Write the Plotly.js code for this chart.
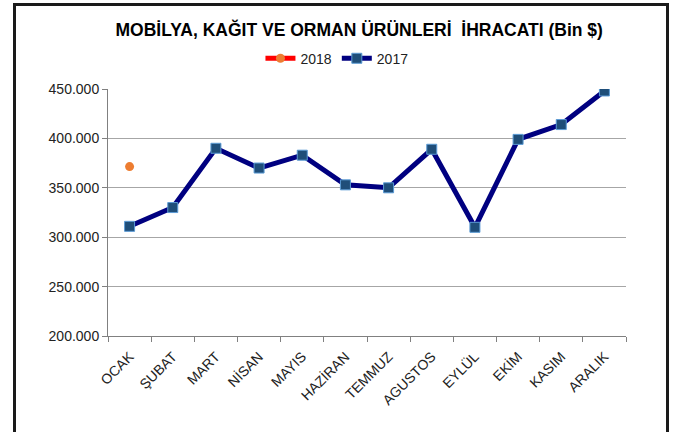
<!DOCTYPE html>
<html><head><meta charset="utf-8">
<script src="https://cdn.plot.ly/plotly-3.0.1.min.js"></script>
<style>
html,body{margin:0;padding:0;background:#fff;}
#wrap{position:relative;width:674px;height:432px;}
#chart{width:674px;height:432px;}
#frame{position:absolute;left:13px;top:3px;width:650px;height:440px;border:3px solid #1a1a1a;pointer-events:none;}
</style></head>
<body>
<div id="wrap"><div id="chart"></div><div id="frame"></div></div>
<script>
const months = ["OCAK","ŞUBAT","MART","NİSAN","MAYIS","HAZİRAN","TEMMUZ","AGUSTOS","EYLÜL","EKİM","KASIM","ARALIK"];
const values2017 = [311, 330, 390, 370, 383, 353, 350, 389, 310, 399, 414, 448];
const months2018 = ["OCAK"];
const values2018 = [371.5];
const yTickVals = [200, 250, 300, 350, 400, 450];
const yTickText = ["200.000","250.000","300.000","350.000","400.000","450.000"];

const traces = [
  {x: months2018, y: values2018, name: "2018", type: "scatter", mode: "lines+markers",
   line: {color: "#ff0000", width: 5},
   marker: {symbol: "circle", size: 9, color: "#ED7D31"}},
  {x: months, y: values2017, name: "2017", type: "scatter", mode: "lines+markers",
   line: {color: "#000080", width: 5},
   marker: {symbol: "square", size: 10, color: "#1F4E79", line: {color: "#5B9BD5", width: 1}}}
];
const layout = {
  width: 674, height: 432,
  margin: {l: 108, r: 48, t: 89, b: 96},
  paper_bgcolor: "#fff", plot_bgcolor: "#fff",
  font: {family: "Liberation Sans, Arial, sans-serif", size: 14, color: "#222"},
  title: {text: "<b>MOBİLYA, KAĞIT VE ORMAN ÜRÜNLERİ  İHRACATI (Bin $)</b>",
          x: 0.533, xanchor: "center", y: 0.93, yanchor: "middle",
          font: {family: "Liberation Sans, Arial, sans-serif", size: 17.5, color: "#000"}},
  showlegend: true,
  legend: {orientation: "h", x: 0.442, xanchor: "center", y: 1.058, yanchor: "bottom",
           font: {size: 14, color: "#222"}, tracegroupgap: 0},
  xaxis: {type: "category", categoryorder: "array", categoryarray: months,
          range: [-0.5, 11.5], tickangle: -45, showgrid: false,
          showline: true, linecolor: "#808080", linewidth: 1,
          ticks: "outside", ticklen: 5, tickcolor: "#808080", tickson: "boundaries",
          ticklabelstandoff: 6,
          tickfont: {size: 14, color: "#222"}, fixedrange: true},
  yaxis: {range: [200, 450], tickvals: yTickVals, ticktext: yTickText,
          showgrid: true, gridcolor: "#a6a6a6", gridwidth: 1,
          showline: true, linecolor: "#808080", linewidth: 1,
          ticks: "outside", ticklen: 5, tickcolor: "#808080",
          tickfont: {size: 14, color: "#222"}, zeroline: false, fixedrange: true}
};
Plotly.newPlot("chart", traces, layout, {displayModeBar: false, staticPlot: true});
</script>
</body></html>
